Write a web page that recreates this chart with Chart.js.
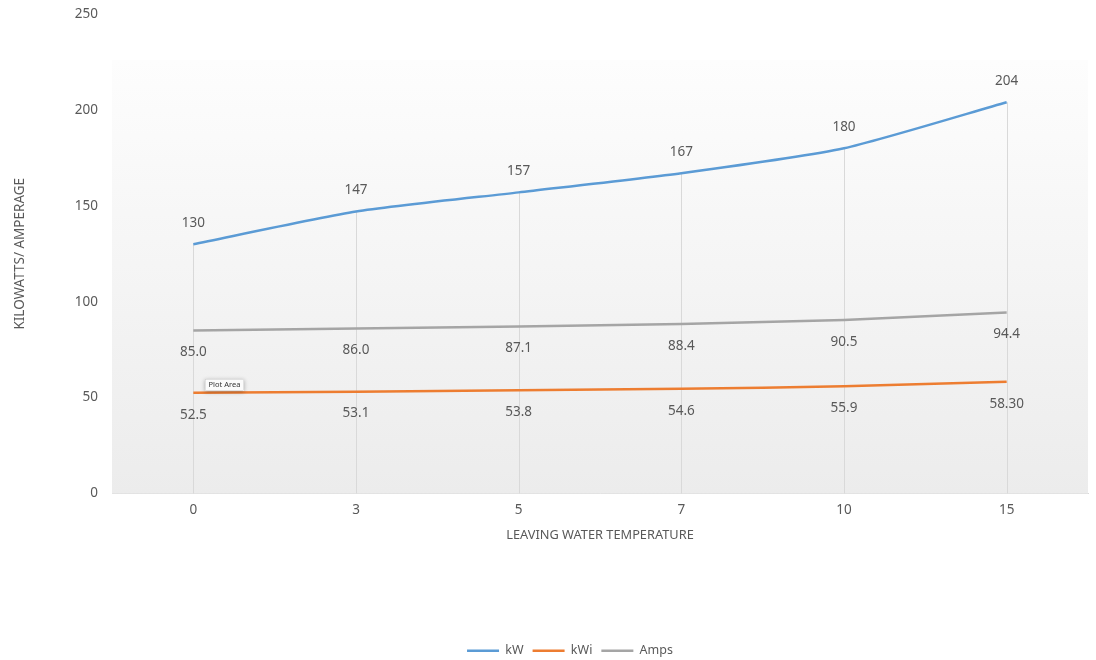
<!DOCTYPE html>
<html>
<head>
<meta charset="utf-8">
<script src="https://cdn.jsdelivr.net/npm/chart.js@4/dist/chart.umd.min.js"></script>
<style>
  html, body { margin: 0; padding: 0; background: #fff; }
  #cnt { width: 1096px; height: 660px; }
</style>
</head>
<body>
<div id="cnt"><canvas id="chart"></canvas></div>
<script>
const temps = ["0", "3", "5", "7", "10", "15"];
const kw = [130, 147, 157, 167, 180, 204];
const kwi = [52.5, 53.1, 53.8, 54.6, 55.9, 58.30];
const amps = [85.0, 86.0, 87.1, 88.4, 90.5, 94.4];
const kw_labels = ["130", "147", "157", "167", "180", "204"];
const kwi_labels = ["52.5", "53.1", "53.8", "54.6", "55.9", "58.30"];
const amps_labels = ["85.0", "86.0", "87.1", "88.4", "90.5", "94.4"];

const txt = "#595959";
const font_fam = "'Noto Sans', 'Open Sans', sans-serif";

// gradient behind plot + drop lines from the kW points
const plot_bg = {
  id: "plot_bg",
  beforeDatasetsDraw(chart){
    const {ctx, chartArea} = chart;
    const top = chartArea.top + 46;
    ctx.save();
    const g = ctx.createLinearGradient(0, top, 0, chartArea.bottom);
    g.addColorStop(0, "#fdfdfd");
    g.addColorStop(1, "#ececec");
    ctx.fillStyle = g;
    ctx.fillRect(chartArea.left, top, chartArea.right - chartArea.left, chartArea.bottom - top);

    const meta = chart.getDatasetMeta(0);
    ctx.strokeStyle = "#d9d9d9";
    ctx.lineWidth = 1;
    meta.data.forEach(p=>{
      const x = Math.round(p.x) + 0.5;
      ctx.beginPath();
      ctx.moveTo(x, p.y);
      ctx.lineTo(x, chartArea.bottom);
      ctx.stroke();
    });
    ctx.restore();
  }
};

// value labels
const value_labels = {
  id: "value_labels",
  afterDatasetsDraw(chart){
    const {ctx} = chart;
    const sets = [[kw_labels, -21], [kwi_labels, 22], [amps_labels, 22]];
    ctx.save();
    ctx.font = "13.5px " + font_fam;
    ctx.fillStyle = txt;
    ctx.textAlign = "center";
    ctx.textBaseline = "middle";
    sets.forEach((s, i)=>{
      const meta = chart.getDatasetMeta(i);
      meta.data.forEach((p, j)=>{
        ctx.fillText(s[0][j], p.x, p.y + s[1]);
      });
    });

    // "Plot Area" hover tip from the original screenshot
    const tx = chart.chartArea.left + 93, ty = chart.chartArea.top + 365;
    ctx.shadowColor = "rgba(0,0,0,0.3)";
    ctx.shadowBlur = 4;
    ctx.shadowOffsetY = 1;
    ctx.fillStyle = "#fbfbfb";
    ctx.fillRect(tx, ty, 39, 12);
    ctx.shadowColor = "transparent";
    ctx.strokeStyle = "#c8c8c8";
    ctx.lineWidth = 0.5;
    ctx.strokeRect(tx + 0.5, ty + 0.5, 38, 11);
    ctx.font = "7.5px " + font_fam;
    ctx.fillStyle = "#333";
    ctx.fillText("Plot Area", tx + 19.5, ty + 6);
    ctx.restore();
  }
};

// legend sits a bit right of centre in the original
const legend_shift = {
  id: "legend_shift",
  afterLayout(chart){
    chart.legend.left += 22;
    chart.legend.right += 22;
  }
};

const line_set = (label, data, color)=>({
  label: label,
  data: data,
  borderColor: color,
  backgroundColor: color,
  borderWidth: 2.5,
  pointRadius: 0,
  pointHoverRadius: 0,
  tension: 0.2,
  fill: false
});

new Chart(document.getElementById("chart"), {
  type: "line",
  data: {
    labels: temps,
    datasets: [
      line_set("kW", kw, "#5b9bd5"),
      line_set("kWi", kwi, "#ed7d31"),
      line_set("Amps", amps, "#a5a5a5")
    ]
  },
  plugins: [plot_bg, value_labels, legend_shift],
  options: {
    responsive: true,
    maintainAspectRatio: false,
    animation: false,
    events: [],
    layout: { padding: { top: 14, right: 8, left: 8, bottom: -7 } },
    plugins: {
      tooltip: { enabled: false },
      legend: {
        position: "bottom",
        title: {
          display: true,
          text: " ",
          font: { size: 10, lineHeight: 1 },
          padding: { top: 0, bottom: 78 }
        },
        labels: {
          color: txt,
          font: { family: font_fam, size: 12.5 },
          boxWidth: 32,
          boxHeight: 2.5,
          padding: 9,
          generateLabels(chart){
            return chart.data.datasets.map((d, i)=>({
              text: d.label,
              fillStyle: d.borderColor,
              strokeStyle: d.borderColor,
              lineWidth: 0,
              fontColor: txt,
              datasetIndex: i
            }));
          }
        }
      }
    },
    scales: {
      x: {
        offset: true,
        grid: { display: false, drawTicks: false },
        border: { display: true, color: "#d9d9d9", width: 1 },
        ticks: { color: txt, font: { family: font_fam, size: 13.5 }, padding: 9 },
        title: {
          display: true,
          text: "LEAVING WATER TEMPERATURE",
          color: txt,
          font: { family: font_fam, size: 12.8 },
          padding: { top: 4, bottom: 4 }
        },
        afterFit(scale){ scale.height = 54; }
      },
      y: {
        min: 0,
        max: 250,
        ticks: { stepSize: 50, color: txt, font: { family: font_fam, size: 13.5 }, padding: 14 },
        grid: { display: false, drawTicks: false },
        border: { display: false },
        title: {
          display: true,
          text: "KILOWATTS/ AMPERAGE",
          color: txt,
          font: { family: font_fam, size: 13.5 },
          padding: { bottom: 0 }
        },
        afterFit(scale){
          scale.width = 104;
          scale.paddingTop = 0;
        }
      }
    }
  }
});
</script>
</body>
</html>
